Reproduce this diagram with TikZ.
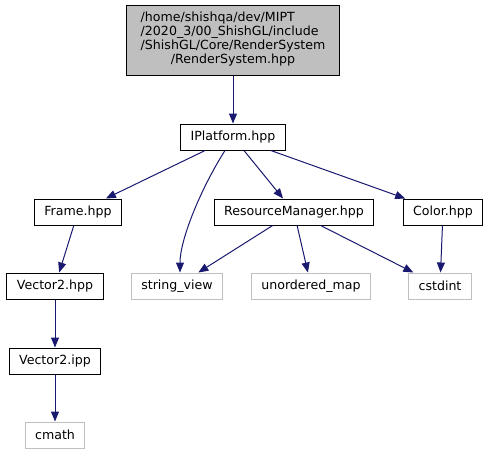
\documentclass[tikz,border=0pt]{standalone}
\usepackage{fontspec}
\setmainfont{DejaVu Sans}
\usepackage{tikz}
\usetikzlibrary{arrows.meta,calc,positioning}

\definecolor{edgeblue}{HTML}{191970}
\definecolor{boxgray}{HTML}{BFBFBF}

\begin{document}
\begin{tikzpicture}[x=1pt,y=-1pt,
  font=\fontsize{12.6}{15}\selectfont,
  box/.style={draw=black,line width=1pt,minimum height=26pt,inner xsep=10pt,inner ysep=2pt},
  ext/.style={box,draw=boxgray},
  edge/.style={-{Triangle[length=10pt,width=8pt]},edgeblue,line width=1pt}]
\useasboundingbox (0,0) rectangle (491,455);
\node[box,fill=boxgray,minimum width=213pt,minimum height=70pt,inner ysep=1pt] (rs) at (233,40)
  {\renewcommand{\arraystretch}{0.93}\begin{tabular}{@{}l@{}}/home/shishqa/dev/MIPT\\/2020\_3/00\_ShishGL/include\\/ShishGL/Core/RenderSystem\\\multicolumn{1}{@{}c@{}}{/RenderSystem.hpp}\end{tabular}};
\node[box] (ip) at (233,137) {IPlatform.hpp};
\node[box] (frame) at (78,212) {Frame.hpp};
\node[box] (rm) at (294,212) {ResourceManager.hpp};
\node[box] (color) at (443,212) {Color.hpp};
\node[box] (v2h) at (55,286) {Vector2.hpp};
\node[ext] (sv) at (177,286) {string\_view};
\node[ext] (umap) at (311,286) {unordered\_map};
\node[ext] (cstd) at (440,286) {cstdint};
\node[box] (v2i) at (55,361) {Vector2.ipp};
\node[ext] (cmath) at (55,435) {cmath};

\draw[edge] (rs) -- (ip);
\draw[edge] (ip) -- (frame);
\draw[edge] (ip.south) ++(-8,0) .. controls (200,190) and (180,240) .. (sv.north -| 180,0);
\draw[edge] (ip) -- (rm);
\draw[edge] (ip) -- (color);
\draw[edge] (frame) -- (v2h);
\draw[edge] (v2h) -- (v2i);
\draw[edge] (v2i) -- (cmath);
\draw[edge] (rm) -- (sv);
\draw[edge] (rm) -- (umap);
\draw[edge] (rm) -- (cstd);
\draw[edge] (color) -- (cstd);
\end{tikzpicture}
\end{document}
